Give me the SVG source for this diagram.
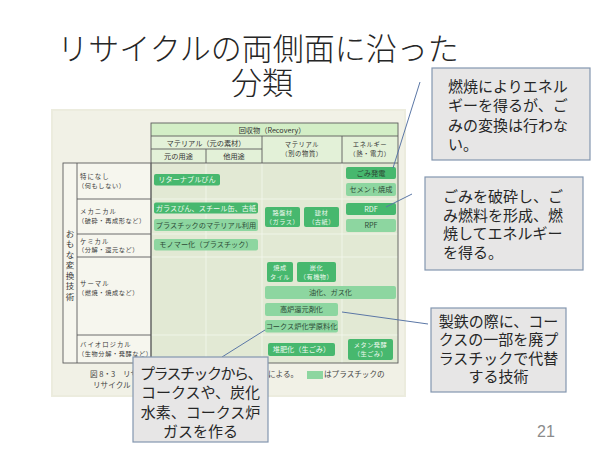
<svg xmlns="http://www.w3.org/2000/svg" width="600" height="450" viewBox="0 0 600 450">
<style>
text{font-family:'Noto Sans CJK JP','Noto Sans',sans-serif;}
.title{font-size:31px;font-weight:300;fill:#262626;text-anchor:middle;}
.hd{font-size:7.2px;fill:#333;text-anchor:middle;}
.hd2{font-size:6.3px;letter-spacing:0.6px;fill:#333;text-anchor:middle;}
.lbl{font-size:6.4px;letter-spacing:1px;fill:#3a3a3a;}
.sub{font-size:6.2px;letter-spacing:0.6px;fill:#3a3a3a;}
.vt{font-size:8.5px;fill:#3a3a3a;text-anchor:middle;}
.btn-d{fill:#47b86e;}
.btn-l{fill:#8dd6a0;}
.bt-d{font-size:7.2px;fill:#eef8ef;text-anchor:middle;}
.bt-l{font-size:7.2px;fill:#2c4a36;text-anchor:middle;}
.b2{font-size:6.2px;letter-spacing:0.5px;fill:#eef8ef;text-anchor:middle;}
.frame{fill:none;stroke:#5c5c5c;stroke-width:0.9;}
.grid{stroke:#f4f7ee;stroke-width:0.8;}
.call{fill:#e7e6e6;stroke:#8497b0;stroke-width:1.2;}
.ct{font-size:15px;fill:#262626;}
.ctm{font-size:15px;fill:#262626;text-anchor:middle;}
.cap{font-size:7.6px;fill:#444;}
.conn{stroke:#5b77a6;stroke-width:1;fill:none;}
</style>
<rect x="0" y="0" width="600" height="450" fill="#ffffff"/>

<g id="title">
<text class="title"><tspan x="258" y="60">リサイクルの両側面に沿った</tspan><tspan x="262" y="94">分類</tspan></text>
</g>

<g id="page-photo">
<rect x="52" y="110" width="353" height="286" fill="#f1f1e6"/>
<rect x="52" y="110" width="353" height="286" fill="none" stroke="#ececde" stroke-width="2"/>
</g>

<g id="table">
<rect x="151" y="123" width="247" height="13" fill="#d3eec6"/>
<rect x="151" y="136" width="247" height="27" fill="#e3f1d8"/>
<rect x="151" y="163" width="247" height="200" fill="#e2e9d4"/>
<rect x="63" y="163" width="88" height="200" fill="#f6f6ee"/>
<line class="grid" x1="206" y1="163" x2="206" y2="363"/>
<line class="grid" x1="262" y1="163" x2="262" y2="363"/>
<line class="grid" x1="342" y1="163" x2="342" y2="363"/>
<line class="grid" x1="151" y1="199" x2="398" y2="199"/>
<line class="grid" x1="151" y1="234" x2="398" y2="234"/>
<line class="grid" x1="151" y1="257" x2="398" y2="257"/>
<line class="grid" x1="151" y1="335" x2="398" y2="335"/>
<rect class="frame" x="151" y="123" width="247" height="240"/>
<line class="frame" x1="151" y1="136" x2="398" y2="136"/>
<line class="frame" x1="151" y1="149" x2="262" y2="149"/>
<line class="frame" x1="151" y1="163" x2="398" y2="163"/>
<line class="frame" x1="206" y1="149" x2="206" y2="163"/>
<line class="frame" x1="262" y1="136" x2="262" y2="163"/>
<line class="frame" x1="342" y1="136" x2="342" y2="163"/>
<rect class="frame" x="63" y="163" width="88" height="200"/>
<line class="frame" x1="77" y1="163" x2="77" y2="363"/>
<line class="frame" x1="77" y1="199" x2="151" y2="199"/>
<line class="frame" x1="77" y1="234" x2="151" y2="234"/>
<line class="frame" x1="77" y1="257" x2="151" y2="257"/>
<line class="frame" x1="77" y1="335" x2="151" y2="335"/>
<text class="hd" x="272" y="132.5">回収物（Recovery）</text>
<text class="hd" x="206" y="145.5">マテリアル（元の素材）</text>
<text class="hd" x="178.5" y="158.5">元の用途</text>
<text class="hd" x="234" y="158.5">他用途</text>
<text class="hd2"><tspan x="302" y="147">マテリアル</tspan><tspan x="302" y="156">（別の物質）</tspan></text>
<text class="hd2"><tspan x="370" y="147">エネルギー</tspan><tspan x="370" y="156">（熱・電力）</tspan></text>
<text class="vt"><tspan x="70" y="236.5">お</tspan><tspan x="70" y="247">も</tspan><tspan x="70" y="257.5">な</tspan><tspan x="70" y="268">変</tspan><tspan x="70" y="278.5">換</tspan><tspan x="70" y="289">技</tspan><tspan x="70" y="299.5">術</tspan></text>
<text class="lbl"><tspan x="80" y="179">特になし</tspan><tspan class="sub" x="78" y="188">（何もしない）</tspan></text>
<text class="lbl"><tspan x="80" y="214">メカニカル</tspan><tspan class="sub" x="78" y="223">（破砕・再成形など）</tspan></text>
<text class="lbl"><tspan x="80" y="243.5">ケミカル</tspan><tspan class="sub" x="78" y="252">（分解・還元など）</tspan></text>
<text class="lbl"><tspan x="80" y="286">サーマル</tspan><tspan class="sub" x="78" y="295">（燃焼・焼成など）</tspan></text>
<text class="lbl"><tspan x="80" y="347">バイオロジカル</tspan><tspan class="sub" x="78" y="355.5">（生物分解・発酵など）</tspan></text>
</g>

<g id="btn-returnable"><rect class="btn-d" x="154" y="174" width="66" height="11.5" rx="2"/><text class="bt-d" x="187" y="182.3">リターナブルびん</text></g>
<g id="btn-glass"><rect class="btn-d" x="154" y="202.5" width="104" height="11" rx="2"/><text class="bt-d" x="206" y="210.6">ガラスびん、スチール缶、古紙</text></g>
<g id="btn-plastic-material"><rect class="btn-l" x="154" y="219" width="104" height="12" rx="2"/><text class="bt-l" x="206" y="227.6">プラスチックのマテリアル利用</text></g>
<g id="btn-monomer"><rect class="btn-l" x="154" y="239" width="104" height="11.5" rx="2"/><text class="bt-l" x="206" y="247.3">モノマー化（プラスチック）</text></g>
<g id="btn-roban"><rect class="btn-d" x="265" y="207" width="35" height="20" rx="2"/><text class="b2"><tspan x="282.5" y="214.5">路盤材</tspan><tspan x="282.5" y="223.7">（ガラス）</tspan></text></g>
<g id="btn-kenzai"><rect class="btn-d" x="304" y="207" width="35" height="20" rx="2"/><text class="b2"><tspan x="321.5" y="214.5">建材</tspan><tspan x="321.5" y="223.7">（古紙）</tspan></text></g>
<g id="btn-gomihatsuden"><rect class="btn-d" x="346" y="167" width="50" height="12" rx="2"/><text class="bt-l" x="371" y="175.6">ごみ発電</text></g>
<g id="btn-cement"><rect class="btn-l" x="346" y="183" width="50" height="13" rx="2"/><text class="bt-l" x="371" y="192.1">セメント焼成</text></g>
<g id="btn-rdf"><rect class="btn-d" x="346" y="203" width="50" height="12" rx="2"/><text class="bt-d" x="371" y="211.6">RDF</text></g>
<g id="btn-rpf"><rect class="btn-l" x="346" y="219" width="50" height="13" rx="2"/><text class="bt-l" x="371" y="228.1">RPF</text></g>
<g id="btn-tile"><rect class="btn-d" x="267" y="262" width="26" height="20" rx="2"/><text class="b2"><tspan x="280" y="269.5">焼成</tspan><tspan x="280" y="278.7">タイル</tspan></text></g>
<g id="btn-tanka"><rect class="btn-d" x="297" y="262" width="39" height="20" rx="2"/><text class="b2"><tspan x="316.5" y="269.5">炭化</tspan><tspan x="316.5" y="278.7">（有機物）</tspan></text></g>
<g id="btn-yuka"><rect class="btn-l" x="265" y="286" width="131" height="13" rx="2"/><text class="bt-l" x="330.5" y="295.1">油化、ガス化</text></g>
<g id="btn-koro"><rect class="btn-l" x="265" y="303" width="73" height="13" rx="2"/><text class="bt-l" x="301.5" y="312.1">高炉還元剤化</text></g>
<g id="btn-cokes"><rect class="btn-l" x="265" y="320" width="73" height="12.5" rx="2"/><text class="bt-l" x="301.5" y="328.8">コークス炉化学原料化</text></g>
<g id="btn-compost"><rect class="btn-d" x="268" y="343" width="67" height="13" rx="2" fill="#56bf7b"/><text class="bt-d" x="301.5" y="352.1">堆肥化（生ごみ）</text></g>
<g id="btn-methane"><rect class="btn-d" x="348" y="339" width="45" height="21" rx="2"/><text class="b2"><tspan x="370.5" y="347">メタン発酵</tspan><tspan x="370.5" y="356.2">（生ごみ）</tspan></text></g>

<g id="caption">
<text class="cap"><tspan x="90" y="377">図 8・3　リサ</tspan><tspan x="93" y="388">リサイクル</tspan></text>
<text class="cap" x="268" y="377">による。</text>
<rect x="307" y="371" width="16" height="8" fill="#8dd6a0"/>
<text class="cap" x="324" y="377">はプラスチックの</text>
</g>

<g id="connectors">
<line class="conn" x1="420" y1="82" x2="393" y2="168"/>
<line class="conn" x1="412" y1="194" x2="386" y2="207"/>
<line class="conn" x1="342" y1="312" x2="428" y2="324"/>
<line class="conn" x1="222" y1="357" x2="265" y2="330"/>
</g>

<g id="callout-energy">
<rect class="call" x="432" y="68" width="158" height="92"/>
<text class="ct"><tspan x="448" y="91.5">燃焼によりエネル</tspan><tspan x="448" y="111">ギーを得るが、ご</tspan><tspan x="448" y="130.5">みの変換は行わな</tspan><tspan x="448" y="150">い。</tspan></text>
</g>

<g id="callout-rdf">
<rect class="call" x="425" y="177" width="158" height="93"/>
<text class="ct"><tspan x="443" y="202">ごみを破砕し、ご</tspan><tspan x="443" y="220.7">み燃料を形成、燃</tspan><tspan x="443" y="239.4">焼してエネルギー</tspan><tspan x="443" y="258">を得る。</tspan></text>
</g>

<g id="callout-blastfurnace">
<rect class="call" x="431" y="308" width="135" height="84"/>
<text class="ctm"><tspan x="498.5" y="326.5">製鉄の際に、コー</tspan><tspan x="498.5" y="345">クスの一部を廃プ</tspan><tspan x="498.5" y="363.5">ラスチックで代替</tspan><tspan x="498.5" y="381.5">する技術</tspan></text>
</g>

<g id="callout-cokes">
<rect class="call" x="133" y="357" width="135" height="85"/>
<text class="ctm"><tspan x="200.5" y="378.5" letter-spacing="-1.5">プラスチックから、</tspan><tspan x="200.5" y="398">コークスや、炭化</tspan><tspan x="200.5" y="417.5">水素、コークス炉</tspan><tspan x="200.5" y="436.5">ガスを作る</tspan></text>
</g>

<g id="page-number">
<text x="546" y="437" font-size="16" fill="#8b8b8b" text-anchor="middle" style="font-family:'Liberation Sans',sans-serif">21</text>
</g>
</svg>
